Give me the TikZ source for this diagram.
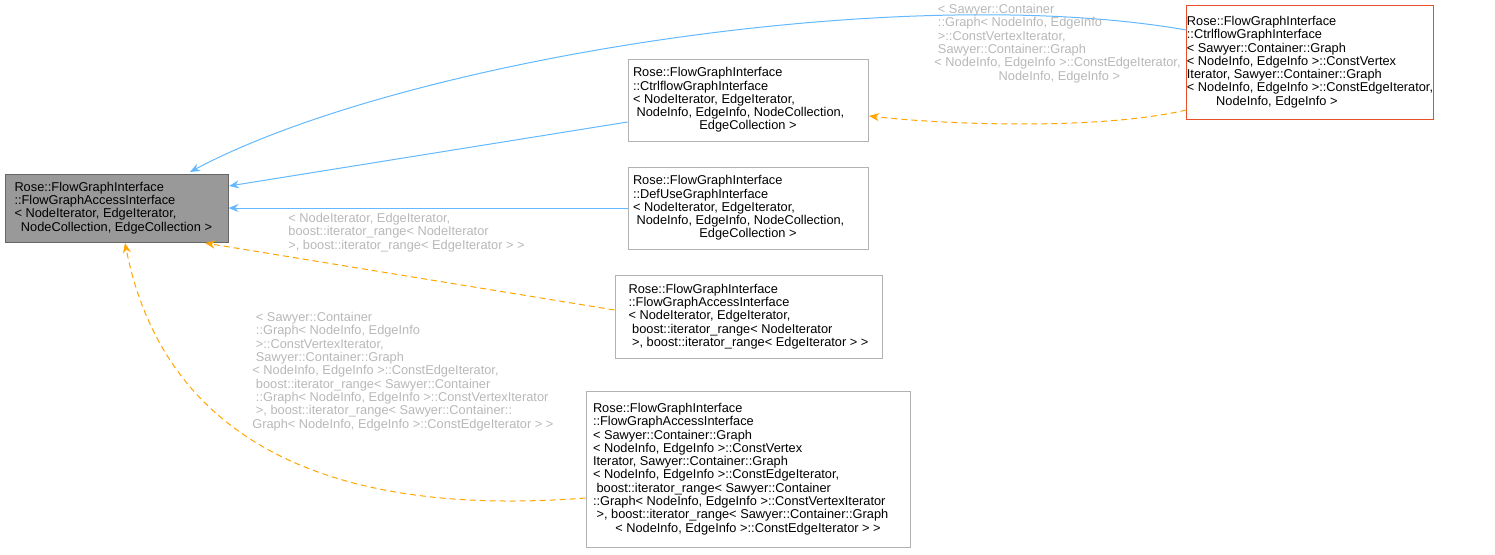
\documentclass[tikz,border=0pt]{standalone}
\usepackage{fontspec}
\setmainfont{Liberation Sans}
\usetikzlibrary{arrows.meta}
\definecolor{dblue}{RGB}{99,184,255}
\definecolor{dred}{RGB}{230,80,40}
\definecolor{dorg}{RGB}{255,165,0}
\begin{document}
\begin{tikzpicture}[x=0.5pt,y=-0.5pt,
  box/.style={draw=#1,line width=0.5pt,inner sep=0pt,align=left,font=\fontsize{6.4}{6.65}\selectfont},
  box/.default={black!30},
  lbl/.style={text=black!28,align=left,inner sep=0pt,font=\fontsize{6.4}{6.65}\selectfont},
  blue/.style={draw=dblue,line width=0.5pt,-{Stealth[length=5pt,width=4pt,fill=dblue]}},
  org/.style={draw=dorg,dashed,dash pattern=on 3pt off 2pt,line width=0.5pt,-{Stealth[length=5pt,width=4pt,fill=dorg]}}]
\newcommand{\cl}[2]{\makebox[#1pt][c]{#2}}
\useasboundingbox (0,0) rectangle (1495,554);
\node[box=black!60,fill=black!40,minimum width=111.5pt,minimum height=34pt] (A) at (116.5,208)
 {Rose::FlowGraphInterface\\::FlowGraphAccessInterface\\\textless{} NodeIterator, EdgeIterator,\\\cl{102}{NodeCollection, EdgeCollection \textgreater}};
\node[box=dred,minimum width=97pt,minimum height=57pt] (B) at (1310,62)
 {Rose::FlowGraphInterface\\::CtrlflowGraphInterface\\\textless{} Sawyer::Container::Graph\\\textless{} NodeInfo, EdgeInfo \textgreater::ConstVertex\\Iterator, Sawyer::Container::Graph\\\textless{} NodeInfo, EdgeInfo \textgreater::ConstEdgeIterator,\\\cl{90}{NodeInfo, EdgeInfo \textgreater}};
\node[box,minimum width=120pt,minimum height=41pt] (C) at (748,100)
 {Rose::FlowGraphInterface\\::CtrlflowGraphInterface\\\textless{} NodeIterator, EdgeIterator,\\\ NodeInfo, EdgeInfo, NodeCollection,\\\cl{115}{EdgeCollection \textgreater}};
\node[box,minimum width=120pt,minimum height=41pt] (D) at (748,208)
 {Rose::FlowGraphInterface\\::DefUseGraphInterface\\\textless{} NodeIterator, EdgeIterator,\\\ NodeInfo, EdgeInfo, NodeCollection,\\\cl{115}{EdgeCollection \textgreater}};
\node[box,minimum width=133.5pt,minimum height=41.5pt] (E) at (748.5,316.5)
 {Rose::FlowGraphInterface\\::FlowGraphAccessInterface\\\textless{} NodeIterator, EdgeIterator,\\\ boost::iterator\_range\textless{} NodeIterator\\\ \textgreater, boost::iterator\_range\textless{} EdgeIterator \textgreater{} \textgreater};
\node[box,minimum width=162pt,minimum height=78pt] (F) at (748,469)
 {Rose::FlowGraphInterface\\::FlowGraphAccessInterface\\\textless{} Sawyer::Container::Graph\\\textless{} NodeInfo, EdgeInfo \textgreater::ConstVertex\\Iterator, Sawyer::Container::Graph\\\textless{} NodeInfo, EdgeInfo \textgreater::ConstEdgeIterator,\\\ boost::iterator\_range\textless{} Sawyer::Container\\::Graph\textless{} NodeInfo, EdgeInfo \textgreater::ConstVertexIterator\\\ \textgreater, boost::iterator\_range\textless{} Sawyer::Container::Graph\\\cl{155}{\textless{} NodeInfo, EdgeInfo \textgreater::ConstEdgeIterator \textgreater{} \textgreater}};
\draw[blue] (B.west|-0,30) .. controls (900,-20) and (400,60) .. (190,172);
\draw[blue] (C.west|-0,122) -- (229,186);
\draw[blue] (D.west) -- (A.east);
\draw[org] (E.west|-0,310) -- (205,243);
\draw[org] (F.west|-0,498) .. controls (300,520) and (160,420) .. (125,243);
\draw[org] (B.west|-0,110) .. controls (1100,130) and (950,125) .. (869,116);
\node[lbl,anchor=north west] (l1) at (288,213) {\textless{} NodeIterator, EdgeIterator,\\boost::iterator\_range\textless{} NodeIterator\\\textgreater, boost::iterator\_range\textless{} EdgeIterator \textgreater{} \textgreater};
\node[lbl,anchor=north west] (l2) at (252,312) {\ \textless{} Sawyer::Container\\\ ::Graph\textless{} NodeInfo, EdgeInfo\\\ \textgreater::ConstVertexIterator,\\\ Sawyer::Container::Graph\\\textless{} NodeInfo, EdgeInfo \textgreater::ConstEdgeIterator,\\\ boost::iterator\_range\textless{} Sawyer::Container\\\ ::Graph\textless{} NodeInfo, EdgeInfo \textgreater::ConstVertexIterator\\\ \textgreater, boost::iterator\_range\textless{} Sawyer::Container::\\Graph\textless{} NodeInfo, EdgeInfo \textgreater::ConstEdgeIterator \textgreater{} \textgreater};
\node[lbl,anchor=north west] (l3) at (934,4) {\ \textless{} Sawyer::Container\\\ ::Graph\textless{} NodeInfo, EdgeInfo\\\ \textgreater::ConstVertexIterator,\\\ Sawyer::Container::Graph\\\textless{} NodeInfo, EdgeInfo \textgreater::ConstEdgeIterator,\\\cl{125}{NodeInfo, EdgeInfo \textgreater}};
\end{tikzpicture}
\end{document}
